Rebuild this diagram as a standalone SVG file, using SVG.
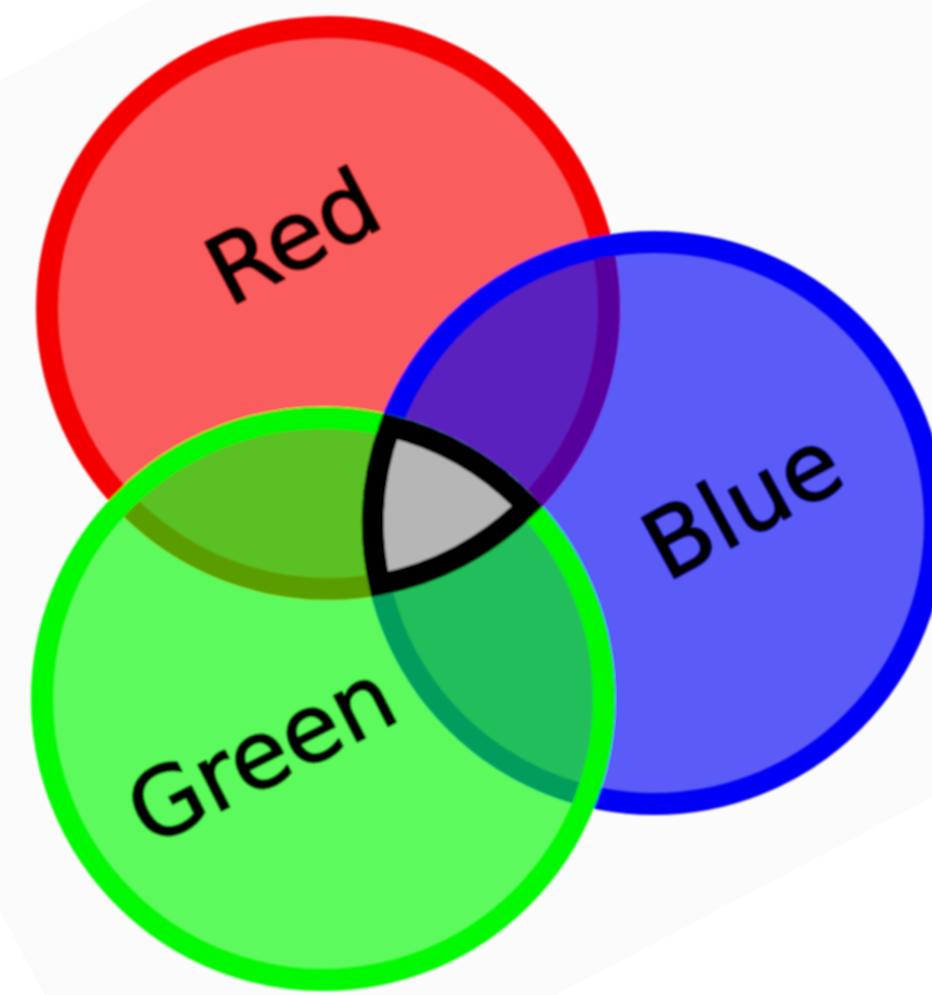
<svg xmlns="http://www.w3.org/2000/svg" width="932" height="995" viewBox="0 0 932 995">
  <defs>
    <filter id="soft" x="-5%" y="-5%" width="110%" height="110%">
      <feGaussianBlur stdDeviation="1.2"/>
    </filter>
  </defs>
  <style>
    .ring { stroke-width: 22; }
    .red { fill: rgb(248,0,0); fill-opacity: 0.63; stroke: #f40000; }
    .blue { fill: rgb(0,0,245); fill-opacity: 0.64; stroke: #0000f6; }
    .green { fill: rgb(0,248,0); fill-opacity: 0.63; stroke: #00f800; }
    .label { font-family: "DejaVu Sans", "Liberation Sans", sans-serif; font-size: 94px; fill: #000; stroke: #000; stroke-width: 2.2; stroke-linejoin: round; text-anchor: middle; }
    .core { fill: #b6b6b6; stroke: #000; stroke-width: 22; stroke-linejoin: miter; stroke-miterlimit: 4; }
  </style>
  <rect x="0" y="0" width="932" height="995" fill="#ffffff"/>
  <g transform="translate(0,80) rotate(-27.7)">
    <rect x="-386" y="0" width="2000" height="1068.6" fill="#fbfbfc"/>
  </g>
  <g filter="url(#soft)">
    <g id="red-circle">
      <circle class="ring red" cx="328" cy="308" r="281"/>
    </g>
    <g id="blue-circle">
      <circle class="ring blue" cx="654" cy="523" r="281"/>
    </g>
    <g id="green-circle">
      <circle class="ring green" cx="323" cy="699" r="281"/>
    </g>
    <g id="center">
      <path class="core" d="M 390.2 426.3 A 281 281 0 0 1 527.3 506.1 A 281 281 0 0 1 379.7 584.2 A 281 281 0 0 1 390.2 426.3 Z"/>
    </g>
    <g id="label-red">
      <text class="label" transform="translate(308,266) rotate(-27.7)">Red</text>
    </g>
    <g id="label-blue">
      <text class="label" transform="translate(758,533) rotate(-28.5)">Blue</text>
    </g>
    <g id="label-green">
      <text class="label" transform="translate(276,783) rotate(-27)">Green</text>
    </g>
  </g>
</svg>
